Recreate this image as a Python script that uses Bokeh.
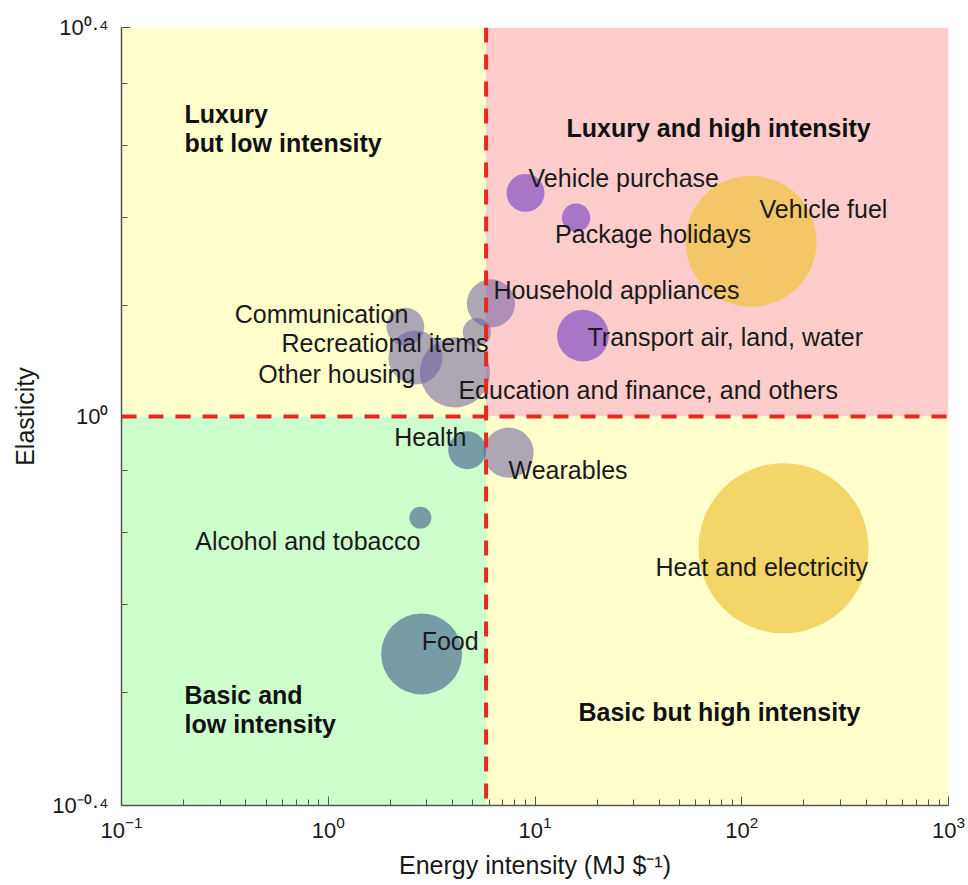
import math
from bokeh.plotting import figure
from bokeh.models import Span, FixedTicker, ColumnDataSource, Range1d, LogTickFormatter
from bokeh.core.properties import value
from bokeh.embed import file_html
from bokeh.resources import INLINE

# ---------------- data ----------------
categories = ["Vehicle purchase", "Package holidays", "Vehicle fuel", "Household appliances",
              "Communication", "Recreational items", "Other housing",
              "Education and finance, and others", "Transport air, land, water", "Health",
              "Wearables", "Alcohol and tobacco", "Heat and electricity", "Food"]
energy_intensity = [9.0, 15.8, 110.9, 6.12, 2.36, 5.23, 2.64, 4.10, 17.06, 4.70, 7.45, 2.79, 159.2, 2.83]
elasticity = [1.698, 1.601, 1.514, 1.307, 1.237, 1.221, 1.150, 1.110, 1.211, 0.923, 0.918, 0.787, 0.732, 0.570]
spend = [3.6, 2.0, 42.9, 5.8, 3.6, 2.0, 7.3, 12.3, 6.7, 3.6, 6.3, 1.2, 72.3, 16.4]
group = ["transport", "transport", "fuel", "other", "other", "other", "other", "other",
         "transport", "basic", "other", "basic", "fuel", "basic"]

X_SPLIT = 5.8
Y_SPLIT = 1.0
X_MIN, X_MAX = 0.1, 1000.0
Y_MIN, Y_MAX = 10 ** -0.4, 10 ** 0.4

x_ticks = [0.1, 1, 10, 100, 1000]
x_minor = [k * 10 ** d for d in range(-1, 3) for k in range(2, 10)]
y_ticks = [10 ** -0.4, 1.0, 10 ** 0.4]
y_tick_labels = ["10\u207b\u2070\u00b7\u2074", "10\u2070", "10\u2070\u00b7\u2074"]
y_minor = [0.52, 0.64, 0.76, 0.88, 1.3, 1.6, 1.9, 2.2]

quadrant_titles = [["Luxury", "but low intensity"], ["Luxury and high intensity"],
                   ["Basic and", "low intensity"], ["Basic but high intensity"]]

# ---------------- layout / style ----------------
FONT = "Liberation Sans"
group_color = {"transport": (110, 60, 195), "other": (105, 95, 160),
               "basic": (60, 90, 140), "fuel": (240, 195, 60)}
group_alpha = {"transport": 0.6, "other": 0.55, "basic": 0.6, "fuel": 0.7}

# label offsets in pixels from bubble centre (dx, dy down-positive), and alignment
label_dx = [3, -21, 8.5, 2.5, 3, 11.7, 0, 3.5, 4.5, -0.7, 0, 0, -128, 0]
label_dy = [-15, 16, -32, -13, -13, 11, 17, 18, 1, -13, 17, 23, 19, -13]
label_align = ["left", "left", "left", "left", "right", "right", "right", "left",
               "left", "right", "left", "right", "left", "left"]

# quadrant title anchor points (left edge, line centres)
qt_x = [0.2018, 14.2, 0.2018, 16.23]
qt_y = [[2.049, 1.913], [1.978], [0.5177, 0.4823], [0.4973]]

p = figure(width=968, height=883, x_axis_type="log", y_axis_type="log",
           x_range=Range1d(X_MIN, X_MAX), y_range=Range1d(Y_MIN, Y_MAX),
           output_backend="svg", toolbar_location=None,
           min_border_left=121, min_border_right=20, min_border_top=27, min_border_bottom=78)
p.outline_line_color = None
p.xgrid.visible = False
p.ygrid.visible = False
p.background_fill_color = "white"

# quadrant backgrounds
p.quad(left=[X_MIN, X_SPLIT, X_MIN, X_SPLIT], right=[X_SPLIT, X_MAX, X_SPLIT, X_MAX],
       bottom=[Y_SPLIT, Y_SPLIT, Y_MIN, Y_MIN], top=[Y_MAX, Y_MAX, Y_SPLIT, Y_SPLIT],
       fill_color=["#FFFFCC", "#FFCCCC", "#CCFFCC", "#FFFFCC"], line_color=None)

# bubbles
def rgb(c):
    return "#%02x%02x%02x" % c

src = ColumnDataSource(dict(
    x=energy_intensity, y=elasticity, name=categories,
    size=[20 * math.sqrt(s) for s in spend],
    color=[rgb(group_color[g]) for g in group],
    alpha=[group_alpha[g] for g in group],
))
p.scatter("x", "y", size="size", fill_color="color", fill_alpha="alpha", line_color=None, source=src)

# bubble labels
for align in ["left", "right"]:
    idx = [i for i, a in enumerate(label_align) if a == align]
    s = ColumnDataSource(dict(
        x=[energy_intensity[i] for i in idx], y=[elasticity[i] for i in idx],
        t=[categories[i] for i in idx], dx=[label_dx[i] for i in idx], dy=[label_dy[i] for i in idx]))
    p.text("x", "y", text="t", x_offset="dx", y_offset="dy", source=s,
           text_align=align, text_baseline="middle", text_font=value(FONT),
           text_font_size="25px", text_color="#1a1a1a")

# quadrant titles
for lines, xq, ys in zip(quadrant_titles, qt_x, qt_y):
    p.text(x=[xq] * len(lines), y=ys, text=lines, text_align="left", text_baseline="middle",
           text_font=value(FONT), text_font_size="25px", text_font_style="bold", text_color="#111111")

# dashed split lines
for loc, dim in [(X_SPLIT, "height"), (Y_SPLIT, "width")]:
    p.add_layout(Span(location=loc, dimension=dim, line_color="#E8281E", line_width=4,
                      line_dash="15 12"))

# axes
for ax, ticks, minor in [(p.xaxis[0], x_ticks, x_minor), (p.yaxis[0], y_ticks, y_minor)]:
    ax.ticker = FixedTicker(ticks=ticks, minor_ticks=minor)
    ax.major_tick_in = 9
    ax.major_tick_out = 0
    ax.minor_tick_in = 6
    ax.minor_tick_out = 0
    ax.axis_line_color = "#555555"
    ax.axis_line_width = 1.5
    ax.major_tick_line_color = "#555555"
    ax.minor_tick_line_color = "#555555"
    ax.major_label_text_font = FONT
    ax.major_label_text_font_size = "22px"
    ax.major_label_text_color = "#1a1a1a"
    ax.axis_label_text_font = FONT
    ax.axis_label_text_font_size = "25px"
    ax.axis_label_text_font_style = "normal"
    ax.axis_label_text_color = "#1a1a1a"

p.xaxis.formatter = LogTickFormatter()
p.xaxis.major_label_standoff = 10
p.xaxis.axis_label = "Energy intensity (MJ $\u207b\u00b9)"
p.xaxis.axis_label_standoff = 10

p.yaxis.major_label_overrides = {t: lab for t, lab in zip(y_ticks, y_tick_labels)}
p.yaxis.major_label_standoff = 13
p.yaxis.axis_label = "Elasticity"
p.yaxis.axis_label_standoff = 10

open("out.html", "w").write(file_html(p, INLINE))
